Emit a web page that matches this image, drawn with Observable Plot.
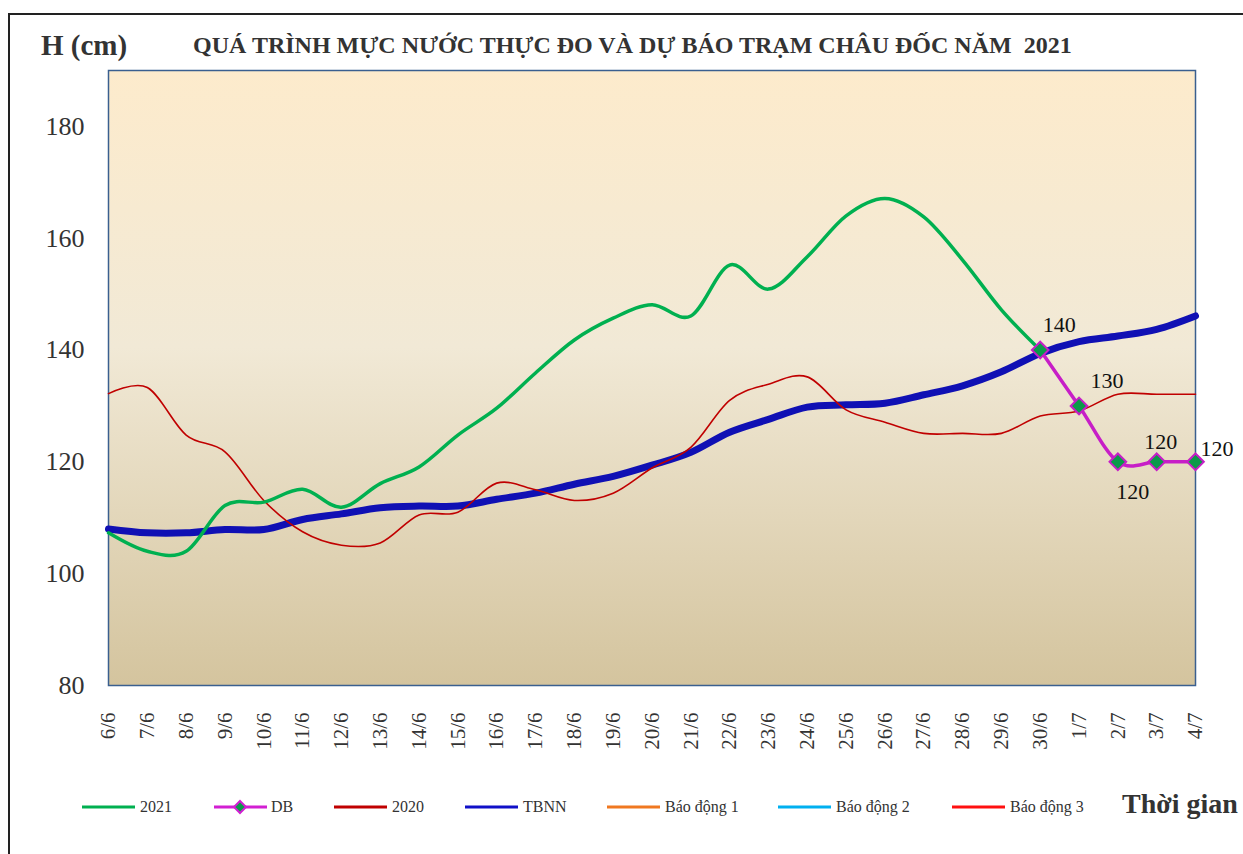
<!DOCTYPE html>
<html>
<head>
<meta charset="utf-8">
<script src="https://cdn.jsdelivr.net/npm/d3@7"></script>
<script src="https://cdn.jsdelivr.net/npm/@observablehq/plot@0.6"></script>
<style>
  html, body { margin: 0; padding: 0; background: #fff; }
  #wrap { position: relative; width: 1243px; height: 854px; overflow: hidden; font-family: "Liberation Serif", "Times New Roman", serif; color: #333; }
  #border { position: absolute; left: 8px; top: 13px; width: 1300px; height: 900px; border-top: 2px solid #222; border-left: 2px solid #222; }
  #chart { position: absolute; left: 0; top: 0; }
  #chart svg, #chart svg text { font-family: "Liberation Serif", "Times New Roman", serif !important; }
  .abs { position: absolute; white-space: pre; }
  #hcm { left: 41px; top: 29px; font-size: 29px; font-weight: bold; }
  #title { left: 193px; top: 32px; font-size: 24px; font-weight: bold; }
  #xlab { left: 1122px; top: 788px; font-size: 28px; font-weight: bold; }
  .leg { position: absolute; top: 796px; height: 24px; font-size: 16px; color: #333; }
  .leg svg { position: absolute; left: 0; top: 0; }
  .leg span { position: absolute; top: 2px; white-space: nowrap; }
</style>
</head>
<body>
<div id="wrap">
  <div id="border"></div>
  <div id="chart"></div>
  <div class="abs" id="hcm">H (cm)</div>
  <div class="abs" id="title">QUÁ TRÌNH MỰC NƯỚC THỰC ĐO VÀ DỰ BÁO TRẠM CHÂU ĐỐC NĂM  2021</div>
  <div class="abs" id="xlab">Thời gian</div>
  <div id="legend"></div>
</div>
<script>
// ---- Data ----
const dates = ["6/6","7/6","8/6","9/6","10/6","11/6","12/6","13/6","14/6","15/6","16/6","17/6","18/6","19/6","20/6","21/6","22/6","23/6","24/6","25/6","26/6","27/6","28/6","29/6","30/6","1/7","2/7","3/7","4/7"];
const h2021 = [107.3,104,104,112.2,112.8,115.1,111.9,116.1,119.1,124.8,129.6,135.9,141.8,145.7,148.1,146.1,155.2,150.9,156.7,164,167.1,163.8,156.1,147.2,140];
const dbDates = ["30/6","1/7","2/7","3/7","4/7"];
const dbValues = [140,130,120,120,120];
const h2020 = [132.2,133.3,124.8,121.8,113.1,107.5,105.1,105.5,110.5,111.0,116.2,115.0,113.1,114.4,118.9,122.6,131.0,133.9,135.2,129.3,127.1,125.1,125.1,125.1,128.2,129.1,132.1,132.1,132.1];
const tbnn = [108.0,107.3,107.3,107.9,107.9,109.7,110.7,111.8,112.1,112.1,113.3,114.4,116.0,117.4,119.4,121.7,125.3,127.6,129.8,130.2,130.5,132.0,133.6,136.1,139.4,141.5,142.5,143.7,146.1];
const yTicks = [80,100,120,140,160,180];
const legendNames = ["2021","DB","2020","TBNN","Báo động 1","Báo động 2","Báo động 3"];
const legendColors = ["#00b050","#d21fd2","#c00000","#1010c8","#f07820","#00b0f0","#ff1010"];

// x position = index of the date category
const idx = d => dates.indexOf(d);
const d2021 = h2021.map((v,i)=>({date: dates[i], x: idx(dates[i]), value: v}));
const d2020 = h2020.map((v,i)=>({date: dates[i], x: idx(dates[i]), value: v}));
const dTbnn = tbnn.map((v,i)=>({date: dates[i], x: idx(dates[i]), value: v}));
const dDb = dbValues.map((v,i)=>({date: dbDates[i], x: idx(dbDates[i]), value: v}));

const defs = () => {
  const g = d3.create("svg:defs");
  const lg = g.append("linearGradient").attr("id","bgGrad").attr("x1",0).attr("y1",0).attr("x2",0).attr("y2",1);
  lg.append("stop").attr("offset","0%").attr("stop-color","#fdebcc");
  lg.append("stop").attr("offset","45%").attr("stop-color","#f1e9d6");
  lg.append("stop").attr("offset","100%").attr("stop-color","#d4c49e");
  return g.node();
};

const lbl = {x:"x", y:"value", text: d => String(d.value), fill:"#111", fontSize: 22};

const W = 1243, ML = 108, MR = 48;
const plot = Plot.plot({
  width: W,
  height: 770,
  marginTop: 70,
  marginBottom: 85,
  marginLeft: ML,
  marginRight: MR,
  style: {background: "transparent", color: "#333"},
  x: {type: "linear", domain: [0, dates.length - 1]},
  y: {domain: [80, 190]},
  marks: [
    defs,
    Plot.frame({fill: "url(#bgGrad)", stroke: "#3a5f8f", strokeWidth: 1.5}),
    Plot.axisY({ticks: yTicks, tickSize: 0, tickPadding: 24, fontSize: 26, fill: "#333", label: null}),
    Plot.axisX({ticks: d3.range(dates.length), tickFormat: i => dates[i], tickSize: 0, tickPadding: 27, tickRotate: -90, fontSize: 21, fill: "#333", label: null}),
    Plot.line(dTbnn, {x:"x", y:"value", stroke:"#1010b4", strokeWidth: 7, curve:"cardinal", tension: 0}),
    Plot.line(d2020, {x:"x", y:"value", stroke:"#c00000", strokeWidth: 1.6, curve:"cardinal", tension: 0}),
    Plot.line(d2021, {x:"x", y:"value", stroke:"#00b050", strokeWidth: 3.5, curve:"cardinal", tension: 0}),
    Plot.line(dDb, {x:"x", y:"value", stroke:"#c71ec7", strokeWidth: 3.5, curve:"cardinal", tension: 0}),
    Plot.dot(dDb, {x:"x", y:"value", symbol:"diamond2", r: 7.5, fill:"#0a9a4a", stroke:"#c71ec7", strokeWidth: 2}),
    Plot.text(dDb, {...lbl, filter: (d,i) => i === 0, dx: 19, dy: -25}),
    Plot.text(dDb, {...lbl, filter: (d,i) => i === 1, dx: 28, dy: -25}),
    Plot.text(dDb, {...lbl, filter: (d,i) => i === 2, dx: 15, dy: 30}),
    Plot.text(dDb, {...lbl, filter: (d,i) => i === 3, dx: 4, dy: -20}),
    Plot.text(dDb, {...lbl, filter: (d,i) => i === 4, dx: 5, dy: -13, textAnchor: "start"})
  ]
});
document.getElementById("chart").appendChild(plot);

// ---- Legend ----
const legendLeft = [82, 214, 334, 465, 607, 778, 952];
const leg = document.getElementById("legend");
legendNames.forEach((name, i) => {
  const item = document.createElement("div");
  item.className = "leg";
  item.style.left = legendLeft[i] + "px";
  let sw = `<svg width="54" height="24"><line x1="0" x2="53" y1="11" y2="11" stroke="${legendColors[i]}" stroke-width="3"/>`;
  if (name === "DB") sw += `<path d="M26,5 L32,11 L26,17 L20,11 Z" fill="#0a9a4a" stroke="${legendColors[i]}" stroke-width="2"/>`;
  sw += `</svg>`;
  item.innerHTML = sw + `<span style="left:${name === "DB" ? 57 : 58}px">${name}</span>`;
  leg.appendChild(item);
});
</script>
</body>
</html>
